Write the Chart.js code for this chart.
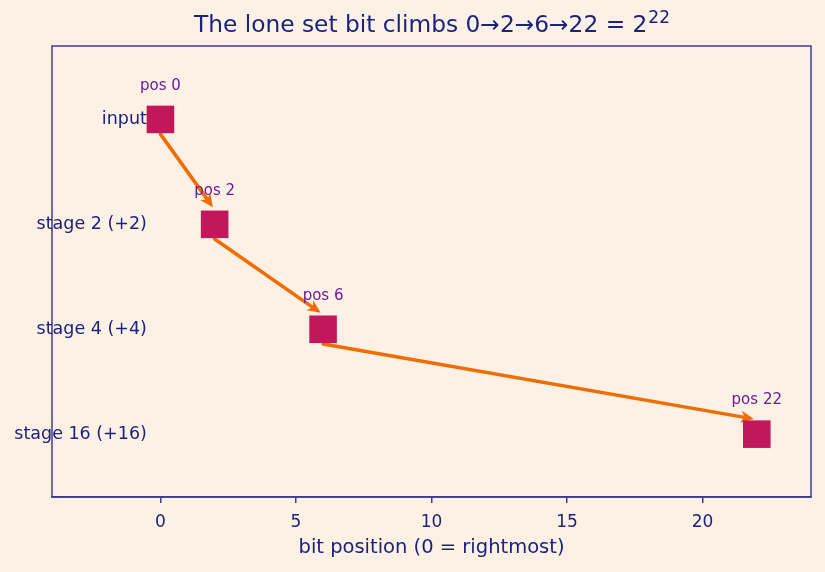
<!DOCTYPE html>
<html>
<head>
<meta charset="utf-8">
<script src="https://cdn.jsdelivr.net/npm/chart.js@4.4.1/dist/chart.umd.min.js"></script>
<style>
  html, body { margin: 0; padding: 0; background: #fdf1e6; }
  #wrap { width: 825px; height: 572px; }
</style>
</head>
<body>
<div id="wrap"><canvas id="myChart" width="825" height="572"></canvas></div>
<script>
// chart data
const stageLabels = ['input', 'stage 2 (+2)', 'stage 4 (+4)', 'stage 16 (+16)'];
const bitPositions = [0, 2, 6, 22];
const posLabels = ['pos 0', 'pos 2', 'pos 6', 'pos 22'];
const xTicks = [0, 5, 10, 15, 20];

const navy = '#1a237e';
const frame = '#3d3d8f';
const markerColor = '#c2185b';
const arrowColor = '#ef6c00';
const labelPurple = '#6a1b9a';
const font = '"DejaVu Sans", sans-serif';

const points = bitPositions.map((x, i) => ({ x: x, y: i }));

// frame, arrows, labels, title
const decorations = {
  id: 'decorations',
  beforeDatasetsDraw(chart) {
    const { ctx, scales } = chart;
    const xs = scales.x, ys = scales.y;
    ctx.save();
    // arrows: bottom of one marker to top of the next
    ctx.strokeStyle = arrowColor;
    ctx.fillStyle = arrowColor;
    ctx.lineWidth = 3.5;
    ctx.lineCap = 'round';
    for (let i = 0; i < points.length - 1; i++) {
      const x1 = xs.getPixelForValue(points[i].x), y1 = ys.getPixelForValue(points[i].y + 0.14);
      const x2 = xs.getPixelForValue(points[i + 1].x), y2 = ys.getPixelForValue(points[i + 1].y - 0.14);
      const len = Math.hypot(x2 - x1, y2 - y1);
      const ux = (x2 - x1) / len, uy = (y2 - y1) / len;
      const ex = x2 - ux * 3, ey = y2 - uy * 3;
      const head = 13, half = 6;
      ctx.beginPath();
      ctx.moveTo(x1, y1);
      ctx.lineTo(ex - ux * head * 0.6, ey - uy * head * 0.6);
      ctx.stroke();
      ctx.beginPath();
      ctx.moveTo(ex, ey);
      ctx.lineTo(ex - ux * head - uy * half, ey - uy * head + ux * half);
      ctx.lineTo(ex - ux * head * 0.75, ey - uy * head * 0.75);
      ctx.lineTo(ex - ux * head + uy * half, ey - uy * head - ux * half);
      ctx.closePath();
      ctx.fill();
    }
    ctx.restore();
  },
  afterDatasetsDraw(chart) {
    const { ctx, chartArea, scales } = chart;
    const xs = scales.x, ys = scales.y;
    ctx.save();
    // full frame round the plot
    ctx.strokeStyle = frame;
    ctx.lineWidth = 1.5;
    ctx.strokeRect(chartArea.left, chartArea.top, chartArea.right - chartArea.left, chartArea.bottom - chartArea.top);

    // stage names at x = -0.5
    ctx.font = '17.5px ' + font;
    ctx.fillStyle = navy;
    ctx.textAlign = 'right';
    ctx.textBaseline = 'middle';
    stageLabels.forEach((lab, i) => {
      ctx.fillText(lab, xs.getPixelForValue(-0.5), ys.getPixelForValue(i));
    });

    // position labels above markers
    ctx.font = '15px ' + font;
    ctx.fillStyle = labelPurple;
    ctx.textAlign = 'center';
    posLabels.forEach((lab, i) => {
      ctx.fillText(lab, xs.getPixelForValue(bitPositions[i]), ys.getPixelForValue(i - 0.32));
    });

    // title with superscript
    const main = 'The lone set bit climbs 0\u21922\u21926\u219222 = 2';
    const sup = '22';
    ctx.fillStyle = navy;
    ctx.textAlign = 'left';
    ctx.textBaseline = 'alphabetic';
    ctx.font = '23.3px ' + font;
    const w1 = ctx.measureText(main).width;
    ctx.font = '17px ' + font;
    const w2 = ctx.measureText(sup).width;
    const cx = (chartArea.left + chartArea.right) / 2;
    const start = cx - (w1 + w2) / 2;
    ctx.font = '23.3px ' + font;
    ctx.fillText(main, start, 32);
    ctx.font = '17px ' + font;
    ctx.fillText(sup, start + w1 + 1, 23);
    ctx.restore();
  }
};

new Chart(document.getElementById('myChart'), {
  type: 'scatter',
  data: {
    datasets: [{
      data: points,
      pointStyle: 'rect',
      pointRadius: 19.5,
      pointHoverRadius: 19.5,
      backgroundColor: markerColor,
      borderColor: markerColor,
      borderWidth: 0
    }]
  },
  options: {
    responsive: false,
    animation: false,
    events: [],
    layout: { autoPadding: false, padding: { left: 52, right: 14, top: 46, bottom: 14 } },
    plugins: {
      legend: { display: false },
      title: { display: false },
      tooltip: { enabled: false }
    },
    scales: {
      x: {
        type: 'linear',
        min: -4,
        max: 24,
        afterBuildTicks: (axis) => { axis.ticks = xTicks.map(v => ({ value: v })); },
        border: { display: true, color: frame, width: 1.5 },
        grid: { display: true, drawOnChartArea: false, drawTicks: true, tickLength: 6, color: frame, lineWidth: 1.5 },
        ticks: { color: navy, font: { family: font, size: 17 }, padding: 9, maxRotation: 0 },
        title: {
          display: true,
          text: 'bit position (0 = rightmost)',
          color: navy,
          font: { family: font, size: 19.5, lineHeight: 1 },
          padding: { top: -3, bottom: 0 }
        }
      },
      y: {
        type: 'linear',
        display: false,
        reverse: true,
        min: -0.7,
        max: 3.6
      }
    }
  },
  plugins: [decorations]
});
</script>
</body>
</html>
